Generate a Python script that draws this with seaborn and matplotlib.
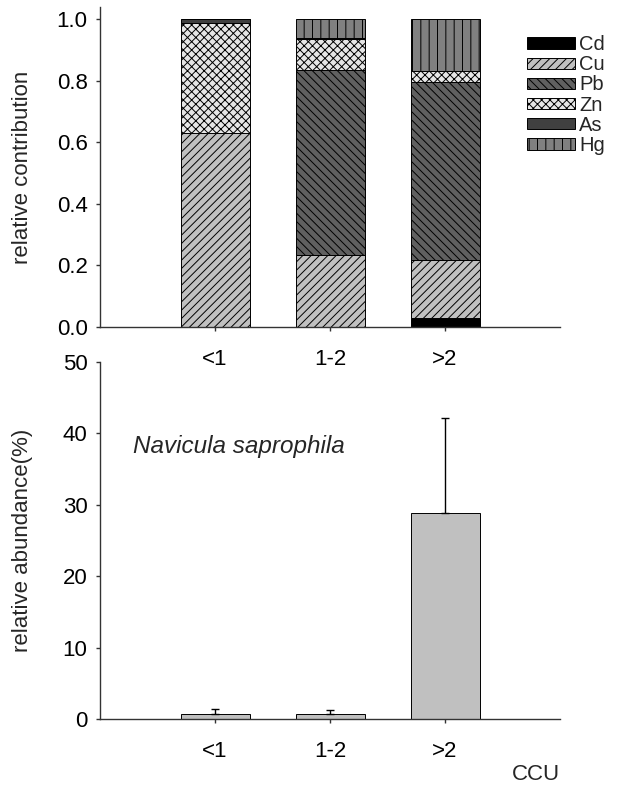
import numpy as np
import pandas as pd
import matplotlib
matplotlib.use("Agg")
import matplotlib.pyplot as plt
import seaborn as sns

categories = ["<1", "1-2", ">2"]
metals = ["Cd", "Cu", "Pb", "Zn", "As", "Hg"]
cd = [0.0, 0.0, 0.028]
cu = [0.632, 0.235, 0.190]
pb = [0.0, 0.600, 0.579]
zn = [0.355, 0.100, 0.035]
as_ = [0.013, 0.005, 0.0]
hg = [0.0, 0.060, 0.168]

abundance = [0.75, 0.65, 28.8]
abundance_err = [0.6, 0.6, 13.3]

colors = {"Cd": "#000000", "Cu": "#c0c0c0", "Pb": "#606060",
          "Zn": "#e6e6e6", "As": "#404040", "Hg": "#808080"}
hatches = {"Cd": "", "Cu": "////", "Pb": "\\\\\\\\", "Zn": "xxxx", "As": "", "Hg": "||"}

sns.set_style("ticks")
plt.rcParams["font.family"] = ["Liberation Sans", "DejaVu Sans"]
plt.rcParams["hatch.linewidth"] = 0.7
plt.rcParams["axes.edgecolor"] = "#333333"
plt.rcParams["xtick.color"] = "#333333"
plt.rcParams["ytick.color"] = "#333333"
plt.rcParams["xtick.labelcolor"] = "black"
plt.rcParams["ytick.labelcolor"] = "black"

fs = 16
fig = plt.figure(figsize=(6.17, 7.91), dpi=100)
ax1 = fig.add_axes([100 / 617, 1 - 327 / 791, 460 / 617, 320 / 791])
ax2 = fig.add_axes([100 / 617, 1 - 719 / 791, 460 / 617, 357 / 791])
ax2.patch.set_alpha(0)

# stacked contributions
comp = pd.DataFrame({"Cd": cd, "Cu": cu, "Pb": pb, "Zn": zn, "As": as_, "Hg": hg},
                    index=categories)
x = np.arange(len(categories))
bottom = np.zeros(len(categories))
handles = []
for m in metals:
    bars = ax1.bar(x, comp[m].values, bottom=bottom, width=0.6, color=colors[m],
                   hatch=hatches[m], edgecolor="black", linewidth=0.7, label=m)
    handles.append(bars)
    bottom += comp[m].values

ax1.set_xlim(-1, 3)
ax1.set_ylim(0, 1.04)
ax1.set_xticks(x)
ax1.set_xticklabels(categories)
ax1.set_yticks(np.arange(0, 1.01, 0.2))
ax1.set_yticklabels([f"{v:.1f}" for v in np.arange(0, 1.01, 0.2)])
ax1.set_ylabel("relative contribution", fontsize=fs)
ax1.yaxis.set_label_coords(-0.145, 0.5)
sns.despine(ax=ax1)

fig.legend(handles=handles, labels=metals, loc="upper left",
           bbox_to_anchor=(517 / 617, 1 - 25 / 791), frameon=False,
           fontsize=14.5, handlelength=2.4, handleheight=0.48,
           handletextpad=0.2, labelspacing=0.06, borderpad=0)

# abundance
ab = pd.DataFrame({"CCU": categories, "abundance": abundance})
sns.barplot(data=ab, x="CCU", y="abundance", ax=ax2, color="#c0c0c0",
            width=0.6, errorbar=None, edgecolor="black", linewidth=0.7,
            saturation=1)
ax2.errorbar(x, abundance, yerr=[np.zeros(3), abundance_err], fmt="none",
             ecolor="black", elinewidth=1, capsize=3, capthick=1)
ax2.set_xlim(-1, 3)
ax2.set_ylim(0, 50)
ax2.set_yticks(range(0, 51, 10))
ax2.set_xlabel("")
ax2.set_ylabel("relative abundance(%)", fontsize=fs)
ax2.yaxis.set_label_coords(-0.145, 0.5)
ax2.text(0.072, 0.762, "Navicula saprophila", style="italic", fontsize=17.5,
         transform=ax2.transAxes, va="center", ha="left")
sns.despine(ax=ax2)

for ax in (ax1, ax2):
    ax.tick_params(axis="x", length=3, width=1, pad=13, labelsize=fs)
    ax.tick_params(axis="y", length=3, width=1, pad=6, labelsize=fs)
    for s in ("left", "bottom"):
        ax.spines[s].set_linewidth(1)

fig.text(560 / 617, 1 - 775 / 791, "CCU", fontsize=fs, ha="right", va="center")

fig.savefig("out.png", dpi=100)
